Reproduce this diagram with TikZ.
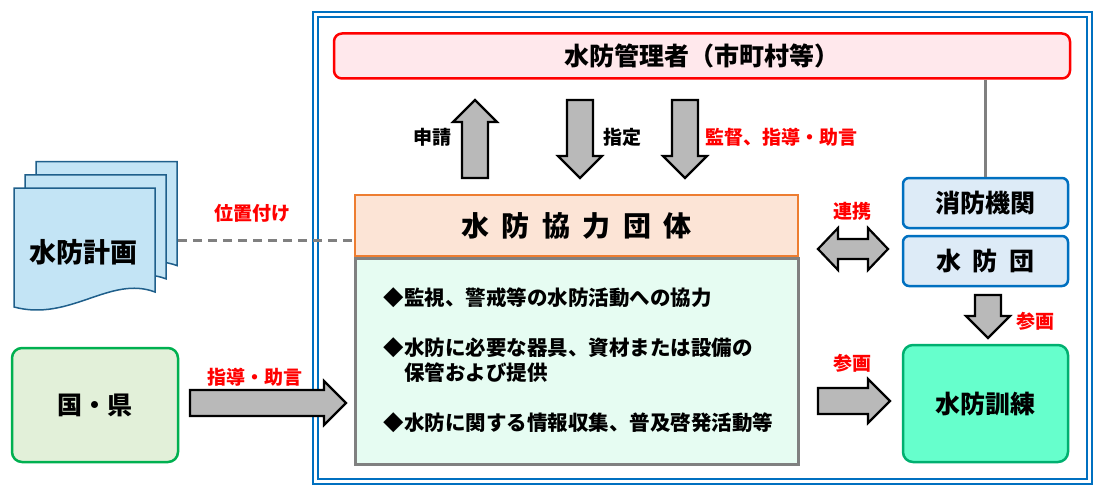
\documentclass[tikz,border=0pt]{standalone}
\usepackage{fontspec}
\setmainfont{Noto Sans CJK JP}
\usetikzlibrary{positioning}
\newcommand\jgap{\hspace{0.45em}}
\definecolor{frameblue}{HTML}{0070C0}
\definecolor{redline}{HTML}{FF0000}
\definecolor{pinkfill}{HTML}{FFE8EC}
\definecolor{orangeline}{HTML}{ED7D31}
\definecolor{orangefill}{HTML}{FCE4D6}
\definecolor{mintfill}{HTML}{E6FCF2}
\definecolor{lightblue}{HTML}{DDEBF7}
\definecolor{docblue}{HTML}{C3E4F5}
\definecolor{docline}{HTML}{1F5F8B}
\definecolor{trainfill}{HTML}{66FFCC}
\definecolor{trainline}{HTML}{00B070}
\definecolor{kenfill}{HTML}{E2F0D9}
\definecolor{kenline}{HTML}{00B050}
\tikzset{
  box/.style={draw, rounded corners=6pt, line width=2.5pt, font=\bfseries\fontsize{25}{28}\selectfont},
  blue box/.style={box, draw=frameblue, fill=lightblue, minimum width=165pt, minimum height=50pt},
  red label/.style={text=redline, font=\bfseries\fontsize{19}{21}\selectfont},
  blk label/.style={font=\bfseries\fontsize{19}{21}\selectfont},
  item/.style={anchor=west, align=left, font=\bfseries\fontsize{20.5}{25}\selectfont},
  % block arrow along +x, length #1
  pics/blk arrow/.style={code={
    \draw[fill=gray!55, line width=2.2pt, line join=miter]
      (0,-13) -- (#1-22,-13) -- (#1-22,-22) -- (#1,0) -- (#1-22,22) -- (#1-22,13) -- (0,13) -- cycle;
  }},
  pics/blk darrow/.style={code={
    \draw[fill=gray!55, line width=2.2pt, line join=miter]
      (0,0) -- (20,-21) -- (20,-10) -- (#1-20,-10) -- (#1-20,-21) -- (#1,0)
      -- (#1-20,21) -- (#1-20,10) -- (20,10) -- (20,21) -- cycle;
  }},
}
\begin{document}
\begin{tikzpicture}[x=1pt,y=-1pt]
\useasboundingbox (0,0) rectangle (1104,495);
% outer frame
\draw[frameblue, line width=1.4pt] (313,12) rectangle (1092,484);
\draw[frameblue, line width=1.4pt] (318,17) rectangle (1087,479);
% top box
\node[box, draw=redline, fill=pinkfill, minimum width=736pt, minimum height=45pt, rounded corners=8pt] (kanri) at (702,56) {水防管理者（市町村等）};
% kyoryoku dantai
\node[draw=orangeline, fill=orangefill, line width=2.5pt, minimum width=443pt, minimum height=61pt,
  font=\bfseries\fontsize{28}{30}\selectfont] (dantai) at (576.5,225.5) {水\jgap 防\jgap 協\jgap 力\jgap 団\jgap 体};
\node[draw=gray, fill=mintfill, line width=3pt, minimum width=443pt, minimum height=206pt, below=0pt of dantai] (gyomu) {};
\node[item] (item1) at (380,298) {◆監視、警戒等の水防活動への協力};
\node[item] (item2) at (380,360) {◆水防に必要な器具、資材または設備の\\\hspace{1em}保管および提供};
\node[item] (item3) at (380,423) {◆水防に関する情報収集、普及啓発活動等};
% arrows to top
\pic[rotate=90] (shinsei) at (475,178) {blk arrow=78};
\pic[rotate=-90] (shitei) at (580,100) {blk arrow=78};
\pic[rotate=-90] (kantoku) at (685,100) {blk arrow=78};
\node[blk label] (l-shinsei) at (432,137) {申請};
\node[blk label] (l-shitei) at (622,137) {指定};
\node[red label] (l-kantoku) at (781,137) {監督、指導・助言};
% right side
\node[blue box] (shobo) at (985.5,203) {消防機関};
\node[blue box] (suibodan) at (985.5,261) {水\jgap 防\jgap 団};
\draw[gray, line width=3pt] (kanri.south -| shobo) -- (shobo.north);
\pic (renkei) at (818,249) {blk darrow=70};
\node[red label] (l-renkei) at (852,211) {連携};
\pic[rotate=-90] (sankaku1) at (988,295) {blk arrow=43};
\node[red label] (l-sankaku1) at (1035,321) {参画};
\node[box, draw=trainline, fill=trainfill, minimum width=165pt, minimum height=117pt, rounded corners=10pt] (kunren) at (985.5,403.5) {水防訓練};
\pic (sankaku2) at (818,401) {blk arrow=72};
\node[red label] (l-sankaku2) at (852,363) {参画};
% left side
\node[box, draw=kenline, fill=kenfill, minimum width=166pt, minimum height=114pt, rounded corners=10pt] (kuni) at (95,405) {国・県};
\pic (shido) at (190,403) {blk arrow=156};
\node[red label] (l-shido) at (255,377) {指導・助言};
% document stack
\foreach \d in {22,11,0}{
  \draw[docline, fill=docblue, line width=1.5pt]
    (14+\d,188-1.2*\d) -- (155+\d,188-1.2*\d) -- (155+\d,292-1.2*\d)
    .. controls (110+\d,275-1.2*\d) and (70+\d,322-1.2*\d) .. (14+\d,307-1.2*\d) -- cycle;
}
\node[font=\bfseries\fontsize{27}{30}\selectfont] (keikaku) at (84,252) {水防計画};
\coordinate (doc-edge) at (178,240);
\draw[gray, line width=3pt, dash pattern=on 9pt off 6pt] (doc-edge) -- (dantai.west |- doc-edge);
\node[red label] (l-ichi) at (252,213) {位置付け};
\end{tikzpicture}
\end{document}
